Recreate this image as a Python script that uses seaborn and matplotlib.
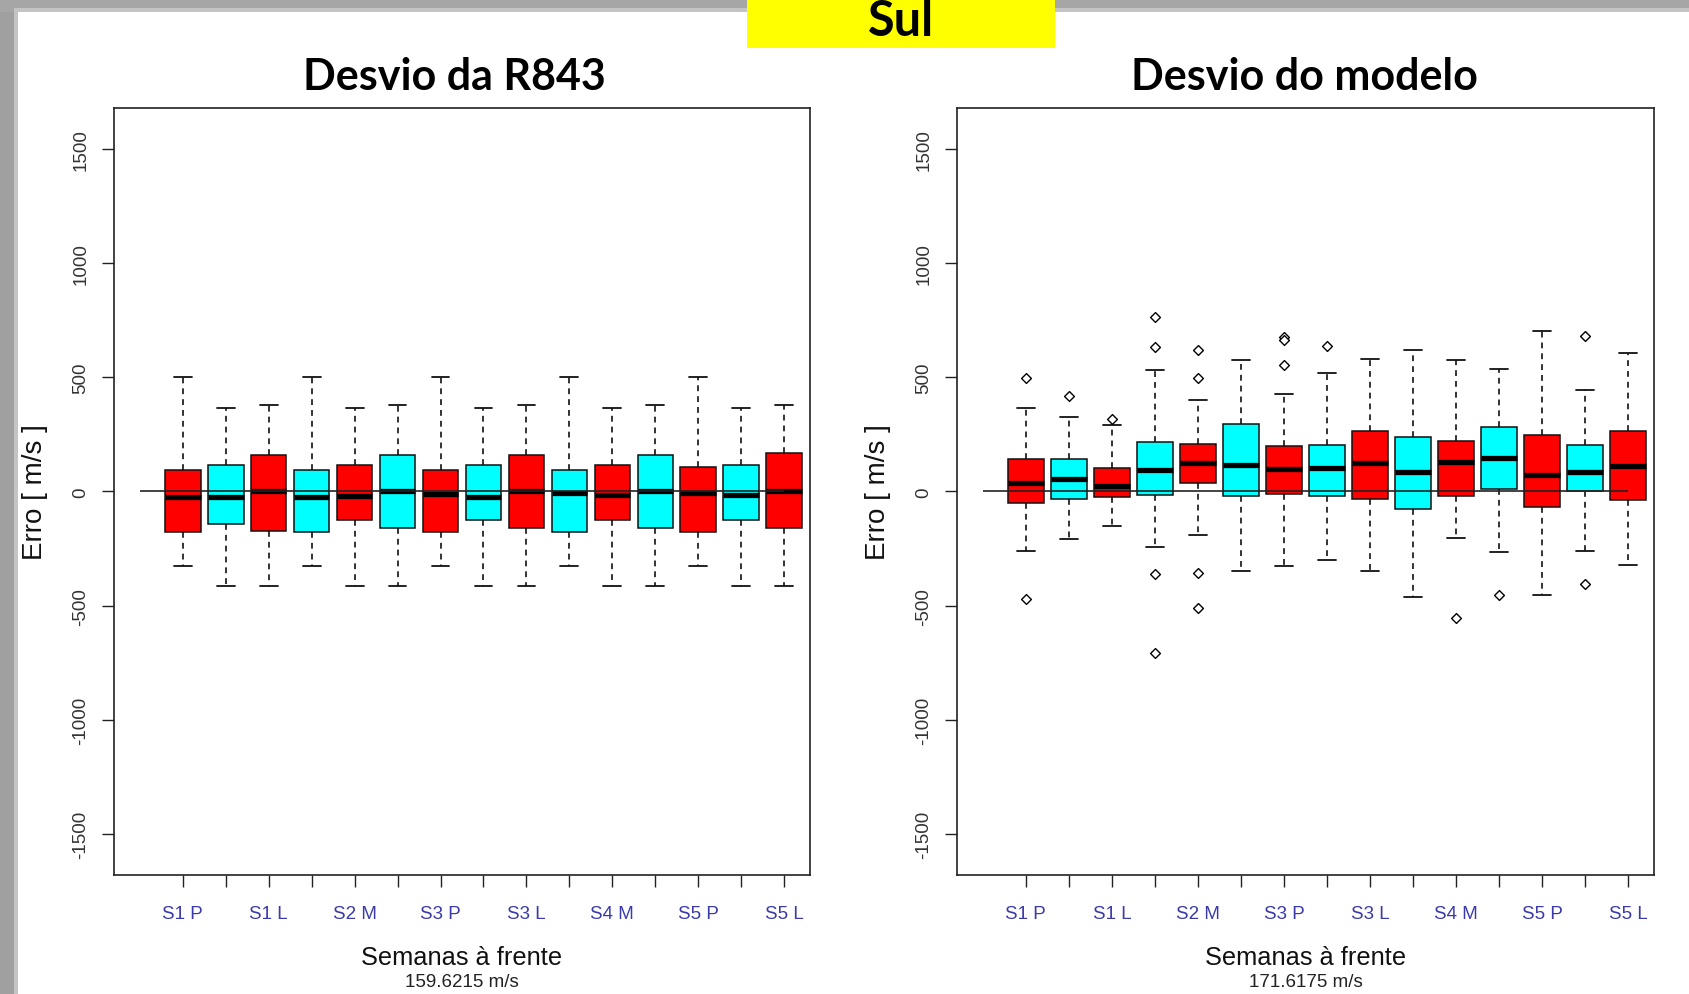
import numpy as np
import pandas as pd
import matplotlib
matplotlib.use("Agg")
import matplotlib.pyplot as plt
import seaborn as sns
from matplotlib.patches import Rectangle

# ---------------- data ----------------
categories = ["S1 P", "S1 M", "S1 L", "S2 P", "S2 M", "S2 L", "S3 P", "S3 M",
              "S3 L", "S4 P", "S4 M", "S4 L", "S5 P", "S5 M", "S5 L"]
shown_labels = ["S1 P", "S1 L", "S2 M", "S3 P", "S3 L", "S4 M", "S5 P", "S5 L"]
box_colors = ["#ff0000", "#00ffff"] * 7 + ["#ff0000"]

# Panel 1: Desvio da R843 (five-number summaries)
r843_whislo = [-326, -414, -414, -326, -414, -414, -326, -414, -414, -326, -414, -414, -326, -414, -414]
r843_q1     = [-177, -142, -173, -177, -123, -159, -177, -123, -159, -177, -123, -159, -177, -123, -159]
r843_med    = [-22, -22, 0, -22, -18, 0, -10, -22, 0, -7, -16, 0, -7, -16, 0]
r843_q3     = [94, 118, 162, 94, 118, 162, 94, 118, 162, 94, 118, 162, 107, 118, 168]
r843_whishi = [500, 364, 377, 500, 364, 377, 500, 364, 377, 500, 364, 377, 500, 364, 377]
r843_out_cat = []
r843_out_val = []

# Panel 2: Desvio do modelo
modelo_whislo = [-259, -210, -150, -242, -192, -347, -328, -298, -347, -463, -204, -267, -452, -261, -323]
modelo_q1     = [-50, -31, -26, -15, 37, -21, -13, -21, -32, -75, -21, 12, -70, 3, -38]
modelo_med    = [37, 56, 25, 92, 123, 116, 98, 104, 123, 86, 129, 148, 73, 86, 111]
modelo_q3     = [141, 141, 103, 216, 210, 296, 198, 204, 265, 240, 221, 284, 246, 204, 265]
modelo_whishi = [365, 327, 290, 532, 402, 575, 425, 517, 579, 622, 575, 537, 702, 444, 605]
modelo_out_cat = ["S1 P", "S1 P", "S1 M", "S1 L", "S2 P", "S2 P", "S2 P", "S2 P",
                  "S2 M", "S2 M", "S2 M", "S2 M", "S3 P", "S3 P", "S3 P", "S3 M",
                  "S4 M", "S4 L", "S5 M", "S5 M"]
modelo_out_val = [497, -473, 418, 318, 764, 632, -362, -708,
                  622, 497, -356, -512, 679, 664, 553, 639,
                  -554, -454, 683, -406]

panel_titles = ["Desvio da R843", "Desvio do modelo"]
panel_subtitles = ["159.6215 m/s", "171.6175 m/s"]
y_ticks = [-1500, -1000, -500, 0, 500, 1000, 1500]
x_title = "Semanas à frente"
y_title = "Erro [ m/s ]"
region = "Sul"

# ---------------- styling ----------------
sns.set_theme(style="white")
plt.rcParams["font.family"] = ["Liberation Sans", "DejaVu Sans"]

W, H = 1690, 995
fig = plt.figure(figsize=(W / 100, H / 100), dpi=100)
fig.patch.set_facecolor("white")

# slide frame (grey shadow at left and top)
fig.add_artist(Rectangle((0, 0), 18 / W, 1, transform=fig.transFigure,
                         facecolor="#a0a0a0", edgecolor="none", zorder=0))
fig.add_artist(Rectangle((0, 1 - 13 / H), 1, 13 / H, transform=fig.transFigure,
                         facecolor="#a6a6a6", edgecolor="none", zorder=0))
fig.add_artist(Rectangle((14 / W, 0), 4 / W, 1 - 13 / H, transform=fig.transFigure,
                         facecolor="#c4c4c4", edgecolor="none", zorder=0))
fig.add_artist(Rectangle((14 / W, 1 - 13 / H), 1, 4 / H, transform=fig.transFigure,
                         facecolor="#c4c4c4", edgecolor="none", zorder=0))
# yellow region tag
fig.add_artist(Rectangle((747 / W, 1 - 49 / H), 308 / W, 49 / H, transform=fig.transFigure,
                         facecolor="#ffff00", edgecolor="none", zorder=1))
fig.text(901 / W, 1 - 36 / H, region, family="Lato", fontweight="bold", fontsize=35,
         ha="center", va="baseline", color="black", zorder=2)

axes_px = [(114, 810), (957, 1654)]
top_px, bot_px = 109, 876
title_x_px = [454, 1304]

panels = [
    (r843_whislo, r843_q1, r843_med, r843_q3, r843_whishi, r843_out_cat, r843_out_val),
    (modelo_whislo, modelo_q1, modelo_med, modelo_q3, modelo_whishi, modelo_out_cat, modelo_out_val),
]

for p, (wlo, q1, med, q3, whi, out_cat, out_val) in enumerate(panels):
    x0, x1 = axes_px[p]
    ax = fig.add_axes([x0 / W, 1 - bot_px / H, (x1 - x0) / W, (bot_px - top_px) / H])
    ax.set_facecolor("white")

    rows = []
    for i, cat in enumerate(categories):
        for v in (wlo[i], q1[i], med[i], q3[i], whi[i]):
            rows.append((cat, v))
    df = pd.DataFrame(rows, columns=["cat", "val"])

    sns.boxplot(data=df, x="cat", y="val", hue="cat", order=categories,
                hue_order=categories, palette=box_colors, saturation=1,
                width=0.83, whis=(0, 100), linecolor="#111111", linewidth=1.1,
                showfliers=False, legend=False, ax=ax,
                medianprops=dict(color="black", linewidth=3.8),
                whiskerprops=dict(linestyle=(0, (3.5, 3.0)), color="#111111", linewidth=1.2),
                capprops=dict(color="#111111", linewidth=1.3),
                boxprops=dict(edgecolor="#111111"))

    if out_cat:
        sns.stripplot(x=out_cat, y=out_val, order=categories, jitter=False,
                      marker="D", size=5, color="white", edgecolor="black",
                      linewidth=1.0, ax=ax, zorder=6)

    ax.hlines(0, -1, len(categories) - 1, color="#222222", linewidth=1.2, zorder=5)

    ax.set_xlim(-1.6, 14.6)
    ax.set_ylim(-1680, 1680)
    ax.set_xticks(range(len(categories)))
    ax.set_xticklabels([c if c in shown_labels else "" for c in categories],
                       color="#3a3aaa", fontsize=13.5)
    ax.set_yticks(y_ticks)
    ax.set_yticklabels([str(t) for t in y_ticks], rotation=90, va="center",
                       fontsize=13.5, color="#333333")
    ax.tick_params(axis="both", which="both", direction="out", length=8.6, width=1.0,
                   color="#222222", left=True, bottom=True)
    ax.tick_params(axis="y", pad=9)
    ax.tick_params(axis="x", pad=13)
    for s in ax.spines.values():
        s.set_color("#222222")
        s.set_linewidth(1.2)
        s.set_visible(True)

    ax.set_xlabel("")
    ax.set_ylabel(y_title, fontsize=20, color="#111111")
    ax.yaxis.set_label_coords(-66 / (x1 - x0), 0.5)

    hpx = bot_px - top_px
    ax.text(0.5, -82 / hpx, x_title, transform=ax.transAxes, ha="center", va="center",
            fontsize=18.3, color="#111111")
    ax.text(0.5, -107 / hpx, panel_subtitles[p], transform=ax.transAxes, ha="center",
            va="center", fontsize=13.5, color="#222222")

    fig.text(title_x_px[p] / W, 1 - 90 / H, panel_titles[p], family="Lato",
             fontweight="bold", fontsize=31, ha="center", va="baseline", color="black")

fig.savefig("out.png", dpi=100, facecolor="white")
